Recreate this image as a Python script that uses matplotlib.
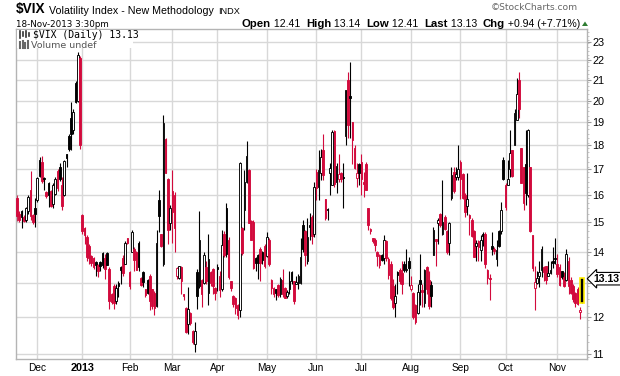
import matplotlib
matplotlib.use('Agg')
import matplotlib.pyplot as plt
import matplotlib.transforms as mtransforms
from matplotlib.patches import Rectangle, Polygon
from matplotlib.ticker import FixedLocator, NullFormatter, FuncFormatter
import numpy as np
import pandas as pd

# trading days, 19-Nov-2012 .. 18-Nov-2013
holidays = ['2012-11-22', '2012-12-25', '2013-01-01', '2013-01-21', '2013-02-18',
            '2013-03-29', '2013-05-27', '2013-07-04', '2013-09-02']
dates = pd.bdate_range('2012-11-19', '2013-11-18')
dates = dates[~dates.isin(pd.to_datetime(holidays))]

# daily OHLC of $VIX, grouped by month
opens = [
    15.90, 15.30, 15.40, 15.20, 15.10, 15.40, 16.20, 15.25, 15.50,
    15.80, 17.40, 17.30, 16.65, 16.10, 16.45, 16.15, 15.65, 16.05, 16.95, 17.10, 16.40, 16.00, 17.62, 18.40, 19.20, 18.65, 20.85, 20.00, 22.10,
    15.25, 14.80, 14.50, 14.20, 13.85, 13.80, 13.65, 13.55, 13.65, 13.95, 13.80, 13.95, 13.45, 12.65, 12.90, 12.45, 13.00, 13.50, 13.80, 13.60, 14.45,
    13.35, 14.00, 14.10, 14.00, 14.30, 13.15, 13.35, 12.80, 13.10, 13.20, 12.80, 12.70, 12.30, 15.80, 14.60, 13.60, 18.25, 16.60, 14.96,
    16.15, 16.00, 13.20, 13.15, 13.50, 12.65, 12.25, 11.80, 12.10, 11.60, 11.25, 13.35, 12.90, 13.10, 13.00, 13.50, 12.70, 13.35, 13.45, 12.85,
    13.50, 13.20, 12.80, 14.60, 15.50, 14.40, 13.05, 12.60, 12.55, 12.35, 12.20, 14.80, 15.45, 16.50, 16.97, 15.05, 15.00, 13.80, 13.90, 14.10, 14.00, 14.20,
    13.85, 14.40, 13.10, 12.85, 12.80, 12.95, 12.65, 13.10, 12.85, 12.60, 13.05, 13.35, 13.05, 12.97, 13.00, 13.00, 14.90, 14.70, 13.70, 14.90, 15.20, 14.60,
    16.90, 16.30, 16.84, 17.80, 15.85, 15.48, 16.84, 16.40, 18.60, 16.50, 16.60, 16.84, 16.70, 18.40, 21.00, 20.20, 19.00, 17.90, 16.65, 17.20,
    17.30, 16.50, 17.20, 15.50, 14.70, 14.45, 14.40, 14.00, 13.90, 13.87, 13.80, 14.35, 13.75, 13.60, 12.90, 12.40, 13.35, 13.40, 13.30, 13.60, 13.40, 13.70,
    12.81, 12.70, 12.35, 12.10, 13.10, 12.75, 12.40, 13.50, 13.10, 12.95, 13.87, 14.40, 14.96, 15.30, 14.60, 15.20, 14.70, 14.30, 15.90, 16.90, 16.70, 16.70,
    17.30, 16.80, 16.00, 15.60, 15.25, 15.10, 14.70, 14.20, 14.35, 14.05, 14.60, 14.60, 13.40, 13.15, 14.20, 14.10, 13.76, 14.70, 14.70, 17.40,
    16.40, 16.38, 17.00, 17.80, 18.00, 19.10, 21.00, 17.90, 17.10, 17.20, 16.00, 17.10, 14.55, 12.85, 13.00, 13.20, 13.40, 13.50, 13.54, 13.22, 13.30, 13.70, 13.80,
    13.59, 13.50, 13.38, 13.17, 13.10, 13.70, 13.10, 12.90, 12.70, 12.80, 12.15, 12.41,
]
highs = [
    16.00, 15.40, 15.45, 15.25, 15.55, 16.00, 16.95, 15.30, 15.90,
    16.70, 17.50, 17.55, 16.70, 16.15, 16.50, 16.20, 16.45, 16.70, 17.00, 17.25, 16.70, 17.40, 17.65, 18.50, 19.95, 19.60, 20.95, 22.45, 22.20,
    15.30, 14.85, 14.55, 14.25, 13.90, 13.82, 13.70, 13.60, 13.70, 14.00, 13.93, 14.00, 13.50, 12.70, 12.96, 12.96, 13.05, 13.54, 13.87, 14.35, 14.45,
    13.38, 14.73, 14.14, 14.02, 14.35, 13.17, 13.38, 12.81, 13.12, 13.27, 12.81, 12.76, 14.73, 16.19, 14.61, 19.35, 18.30, 16.64, 15.62,
    16.97, 16.10, 13.50, 13.54, 13.54, 12.66, 12.28, 12.86, 12.13, 11.62, 11.85, 13.43, 15.40, 13.12, 13.99, 13.70, 14.61, 13.38, 13.48, 12.86,
    13.58, 13.38, 14.73, 14.70, 15.69, 14.50, 13.07, 12.62, 12.58, 12.38, 17.30, 14.84, 16.97, 18.20, 17.00, 15.08, 15.08, 13.81, 13.93, 14.14, 14.02, 14.26,
    14.67, 14.45, 13.12, 12.86, 12.81, 12.96, 13.17, 13.43, 12.86, 12.77, 13.38, 13.38, 13.07, 13.22, 13.27, 14.45, 15.08, 14.73, 15.14, 15.32, 15.26, 16.51,
    17.00, 17.78, 17.85, 18.50, 15.87, 15.50, 17.24, 18.65, 18.65, 17.24, 17.64, 16.90, 17.24, 20.50, 21.40, 21.91, 19.00, 18.00, 17.24, 17.24,
    17.64, 16.90, 17.30, 15.50, 14.80, 14.45, 14.45, 14.02, 13.93, 13.93, 14.55, 14.40, 13.81, 13.70, 13.12, 12.96, 13.38, 13.48, 13.70, 13.70, 14.10, 13.81,
    13.22, 12.71, 12.38, 12.96, 13.93, 12.96, 13.45, 13.54, 13.38, 13.07, 14.84, 14.40, 15.14, 15.32, 16.57, 15.26, 14.73, 15.02, 17.10, 17.10, 17.10, 17.99,
    17.37, 16.84, 16.06, 16.84, 15.30, 15.14, 14.73, 14.38, 14.38, 14.55, 14.67, 14.67, 13.43, 13.27, 14.67, 14.14, 14.38, 14.73, 15.75, 17.50,
    16.45, 17.37, 18.65, 17.80, 19.60, 21.10, 21.40, 17.90, 17.10, 18.65, 18.70, 17.10, 14.55, 13.54, 13.38, 13.70, 14.20, 13.54, 13.54, 13.70, 13.70, 14.14, 14.45,
    13.93, 13.59, 13.38, 13.33, 14.10, 13.81, 13.17, 12.96, 12.71, 12.86, 12.28, 13.14,
]
lows = [
    15.05, 15.00, 14.80, 15.00, 15.00, 15.30, 15.10, 14.95, 14.85,
    15.75, 16.70, 16.45, 16.20, 15.90, 15.55, 15.55, 15.50, 16.00, 16.15, 16.55, 15.45, 15.95, 17.10, 17.75, 17.78, 18.50, 19.90, 19.95, 17.85,
    14.60, 14.25, 13.70, 13.60, 13.54, 13.43, 13.22, 13.17, 13.38, 13.48, 13.12, 13.55, 12.23, 12.38, 12.23, 12.38, 12.58, 12.96, 13.22, 13.59, 14.26,
    12.81, 13.99, 13.38, 13.40, 13.38, 12.90, 12.86, 12.58, 12.66, 12.18, 12.23, 12.04, 12.28, 14.67, 14.14, 13.54, 16.85, 14.26, 14.73,
    14.30, 13.99, 13.12, 13.12, 12.66, 12.48, 11.55, 11.53, 11.78, 11.26, 11.04, 12.23, 12.85, 12.28, 12.96, 12.96, 12.33, 12.91, 12.66, 12.48,
    12.76, 12.58, 12.75, 13.81, 13.81, 13.12, 12.76, 12.28, 12.09, 11.94, 11.99, 13.87, 14.73, 16.45, 14.96, 14.38, 13.43, 13.38, 13.12, 13.07, 13.59, 13.48,
    13.81, 13.54, 12.66, 12.58, 12.48, 12.58, 12.58, 12.58, 12.53, 12.55, 12.66, 12.96, 12.38, 12.96, 12.81, 12.96, 13.99, 13.54, 13.59, 14.38, 14.26, 14.50,
    15.80, 15.81, 16.57, 16.57, 15.08, 15.08, 16.00, 16.38, 16.32, 16.06, 16.51, 16.51, 15.50, 18.00, 18.30, 18.30, 17.20, 17.00, 16.32, 16.38,
    16.00, 15.93, 16.19, 14.73, 14.61, 14.30, 14.02, 13.54, 13.48, 13.70, 13.60, 13.70, 13.12, 12.48, 12.23, 11.99, 12.66, 12.96, 12.66, 13.33, 13.33, 12.91,
    12.76, 11.94, 11.80, 12.09, 12.33, 12.28, 12.28, 12.66, 12.23, 12.28, 13.87, 13.54, 14.26, 14.84, 14.55, 14.73, 13.93, 13.87, 15.81, 16.06, 16.57, 16.57,
    15.87, 15.87, 15.20, 15.26, 14.55, 14.50, 13.81, 13.70, 13.70, 13.70, 14.20, 13.48, 12.96, 12.48, 13.87, 13.93, 13.54, 14.14, 14.61, 16.57,
    15.44, 16.38, 16.70, 16.70, 17.99, 19.10, 19.20, 16.45, 15.44, 15.62, 15.93, 14.67, 13.38, 12.18, 12.96, 12.86, 13.17, 13.07, 12.96, 13.22, 13.27, 13.48, 13.59,
    13.17, 12.91, 13.12, 12.86, 13.07, 12.66, 12.66, 12.43, 12.28, 12.35, 11.94, 12.41,
]
closes = [
    15.24, 15.10, 15.20, 15.05, 15.50, 15.92, 15.22, 15.02, 15.30,
    16.65, 16.75, 16.55, 16.60, 15.95, 16.00, 15.60, 16.40, 16.60, 16.25, 16.60, 15.60, 17.36, 17.45, 17.84, 18.48, 19.48, 19.95, 22.30, 18.02,
    14.68, 14.56, 13.83, 13.79, 13.62, 13.49, 13.55, 13.36, 13.52, 13.55, 13.42, 13.57, 12.46, 12.43, 12.40, 12.85, 12.89, 13.40, 13.31, 14.30, 14.28,
    12.90, 14.67, 13.72, 13.41, 13.50, 12.93, 13.02, 12.64, 12.70, 12.46, 12.30, 12.25, 14.29, 15.22, 14.17, 18.99, 16.87, 14.73, 15.51,
    15.36, 14.81, 13.48, 13.53, 13.06, 12.59, 11.58, 12.23, 11.83, 11.30, 11.60, 12.60, 14.39, 12.67, 13.90, 13.06, 13.74, 13.00, 12.90, 12.70,
    13.45, 12.78, 14.21, 13.89, 13.92, 13.19, 12.84, 12.36, 12.24, 12.06, 17.27, 13.96, 16.51, 17.56, 14.97, 14.39, 13.48, 13.61, 13.62, 13.61, 13.71, 13.52,
    14.49, 13.59, 12.85, 12.66, 12.70, 12.62, 13.13, 12.65, 12.55, 12.71, 12.80, 13.07, 12.45, 13.02, 13.20, 13.82, 14.07, 13.88, 14.48, 14.83, 14.53, 16.30,
    16.27, 16.97, 17.50, 16.77, 15.14, 15.44, 17.07, 18.59, 16.41, 17.15, 16.80, 16.61, 16.64, 20.49, 18.90, 20.11, 18.21, 17.05, 16.84, 16.86,
    16.60, 16.44, 16.20, 14.89, 14.78, 14.35, 14.21, 13.85, 13.55, 13.72, 14.40, 13.78, 13.25, 12.54, 12.29, 12.59, 13.25, 13.05, 12.97, 13.39, 13.45, 13.48,
    12.94, 11.98, 11.84, 12.72, 12.98, 12.73, 13.41, 12.81, 12.31, 12.60, 14.73, 14.37, 15.10, 14.90, 15.02, 14.76, 13.98, 14.99, 16.77, 16.15, 16.81, 17.01,
    16.61, 15.88, 15.36, 15.85, 15.15, 14.53, 13.82, 14.29, 14.16, 14.38, 14.53, 13.59, 13.16, 13.12, 14.08, 14.01, 14.05, 14.20, 15.46, 16.60,
    15.54, 16.60, 17.67, 16.74, 19.41, 20.34, 19.60, 16.48, 15.72, 16.07, 18.66, 14.71, 13.48, 13.04, 13.16, 13.33, 14.10, 13.33, 13.09, 13.31, 13.41, 13.61, 13.75,
    13.28, 12.95, 13.18, 12.89, 13.91, 12.90, 12.70, 12.52, 12.40, 12.37, 12.19, 13.13,
]

month_labels = ['Dec', '2013', 'Feb', 'Mar', 'Apr', 'May', 'Jun', 'Jul', 'Aug', 'Sep', 'Oct', 'Nov']
y_ticks = list(range(11, 24))
last_value = 13.13

o = np.array(opens)
h = np.array(highs)
l = np.array(lows)
c = np.array(closes)
x = np.arange(len(c))

RED = '#d20a3c'
W, H = 620, 376

fig = plt.figure(figsize=(W / 100, H / 100), dpi=100)
fig.patch.set_facecolor('white')
ax = fig.add_axes([16 / W, 1 - 359 / H, 571 / W, 330 / H])
ax.set_yscale('log')
ax.set_ylim(10.86, 23.69)
ax.set_xlim(-0.45, len(c) + 1.2)

# month gridlines at the first trading day of each month
month_pos = []
seen = set()
for i, d in enumerate(dates):
    key = (d.year, d.month)
    if key not in seen:
        seen.add(key)
        if i > 0:
            month_pos.append(i)
ax.set_xticks(month_pos)
ax.set_xticklabels(month_labels, fontsize=7.3, family='Liberation Sans')
for t, lab in zip(ax.get_xticklabels(), month_labels):
    if lab == '2013':
        t.set_fontweight('bold')
        t.set_fontsize(7.8)
ax.tick_params(axis='x', length=0, pad=3)

ax.yaxis.tick_right()
ax.yaxis.set_major_locator(FixedLocator(y_ticks))
# the 13 label sits under the last-price tag
ax.yaxis.set_major_formatter(FuncFormatter(lambda v, p: '' if round(v) == 13 else '%d' % v))
ax.yaxis.set_minor_locator(FixedLocator(np.arange(10.9, 23.7, 0.2)))
ax.yaxis.set_minor_formatter(NullFormatter())
ax.tick_params(axis='y', which='major', length=3, width=0.8, color='#999999',
               labelsize=7.8, pad=1)
ax.tick_params(axis='y', which='minor', length=1.5, width=0.6, color='#bbbbbb')
for t in ax.get_yticklabels():
    t.set_family('Liberation Sans')

ax.grid(True, which='major', color='#d8d8d8', lw=1.0)
ax.set_axisbelow(True)
for s in ax.spines.values():
    s.set_color('#b4b4b4')
    s.set_linewidth(1.0)

# candle colours: black if close >= previous close, red otherwise; hollow if close > open
prev = np.concatenate([[o[0]], c[:-1]])
cols = np.where(c >= prev, 'black', RED)
faces = np.where(c > o, 'white', cols)

ax.vlines(x, l, h, colors=cols, lw=0.8, zorder=2)
body_lo = np.minimum(o, c)
body_h = np.maximum(np.abs(c - o), 0.04)
ax.bar(x[:-1], body_h[:-1], bottom=body_lo[:-1], width=0.72, color=faces[:-1],
       edgecolor=cols[:-1], linewidth=0.65, zorder=3)
# last bar highlighted in yellow
ax.bar(x[-1], h[-1] - l[-1], bottom=l[-1], width=1.5, color='black',
       edgecolor='#ffee00', linewidth=1.2, zorder=3)

# price tag on the right axis
tr = mtransforms.blended_transform_factory(ax.transAxes, ax.transData)
ax.text(1.012, last_value, '%.2f' % last_value, transform=tr, ha='left', va='center',
        fontsize=7.6, fontweight='bold', family='Liberation Sans', zorder=6,
        bbox=dict(boxstyle='larrow,pad=0.12', fc='white', ec='black', lw=0.8),
        clip_on=False)

# legend inside the plot
def ftext(px, py, s, **kw):
    return fig.text(px / W, 1 - py / H, s, **kw)

fig.patches.append(Rectangle((17 / W, 1 - 48 / H), 116 / W, 18.5 / H, transform=fig.transFigure,
                             fc='white', ec='none', zorder=4))
ftext(33, 37.5, '$VIX (Daily) 13.13', fontsize=7, family='DejaVu Sans Mono', va='baseline', zorder=5)
ftext(31, 47.5, 'Volume undef', fontsize=6.8, family='DejaVu Sans', color='#555555',
      va='baseline', zorder=5)
# small icons
for px, y0, y1 in [(20, 31, 38), (22.5, 32, 36), (26, 31, 37), (28.5, 33, 36)]:
    fig.lines.append(plt.Line2D([px / W, px / W], [1 - y0 / H, 1 - y1 / H], transform=fig.transFigure,
                                color='#333333', lw=1.2, zorder=5))
for px, y0 in [(20, 42), (22.5, 40.5), (25, 43), (27.5, 41)]:
    fig.lines.append(plt.Line2D([px / W, px / W], [1 - y0 / H, 1 - 47.5 / H], transform=fig.transFigure,
                                color='#666666', lw=1.5, zorder=5))

# header
ftext(16, 13.5, '$VIX', fontsize=9.8, fontweight='bold', family='Liberation Sans', va='baseline')
ftext(49, 13.5, 'Volatility Index - New Methodology', fontsize=7.7, family='Liberation Sans',
      va='baseline')
ftext(218, 13.5, 'INDX', fontsize=6.6, family='Liberation Sans', va='baseline')
ftext(16, 27, '18-Nov-2013 3:30pm', fontsize=6.3, family='DejaVu Sans', va='baseline')
ftext(578, 10, '\u00a9StockCharts.com', fontsize=6.6, family='DejaVu Sans', color='#666666',
      ha='right', va='baseline')

pieces = [('Open', True), (' 12.41  ', False), ('High', True), (' 13.14  ', False),
          ('Low', True), (' 12.41  ', False), ('Last', True), (' 13.13  ', False),
          ('Chg', True), (' +0.94 (+7.71%)', False)]
fig.canvas.draw()
renderer = fig.canvas.get_renderer()
cur = 242.0
for s, bold in pieces:
    t = ftext(cur, 27, s, fontsize=8.2 if bold else 7.6, fontweight='bold' if bold else 'normal',
              family='Liberation Sans', va='baseline')
    bb = t.get_window_extent(renderer=renderer)
    cur += bb.width
tri_x = cur + 2
fig.patches.append(Polygon([((tri_x) / W, 1 - 26 / H), ((tri_x + 6) / W, 1 - 26 / H),
                            ((tri_x + 3) / W, 1 - 21.5 / H)], closed=True,
                           transform=fig.transFigure, fc='#2e7d32', ec='none'))

fig.savefig('out.png', dpi=100, facecolor='white')
